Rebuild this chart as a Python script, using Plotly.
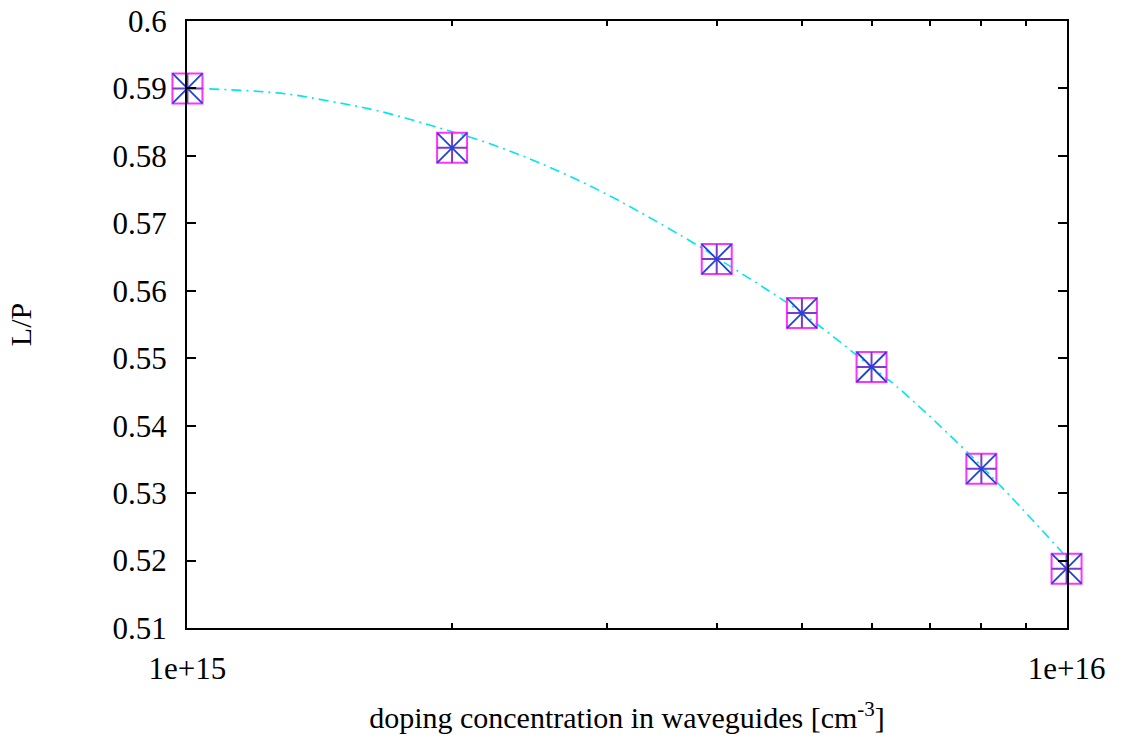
import plotly.graph_objects as go

# measured data points
doping = [1e15, 2e15, 4e15, 5e15, 6e15, 8e15, 1e16]
lp = [0.5900, 0.5812, 0.5647, 0.5567, 0.5487, 0.5336, 0.5188]

# fitted curve
fit_x = [1e15, 1.034e15, 1.275e15, 1.454e15, 1.657e15, 1.975e15, 2.153e15,
         2.5e15, 3e15, 3.83e15, 4e15, 5e15, 6e15, 6.41e15, 8e15, 1e16]
fit_y = [0.5901, 0.5900, 0.5893, 0.5881, 0.5866, 0.5838, 0.5823,
         0.5791, 0.5743, 0.5665, 0.5649, 0.5567, 0.5487, 0.5458, 0.5340, 0.5205]

y_ticks = [0.51, 0.52, 0.53, 0.54, 0.55, 0.56, 0.57, 0.58, 0.59, 0.6]
y_tick_text = ["0.51", "0.52", "0.53", "0.54", "0.55", "0.56", "0.57", "0.58", "0.59", "0.6"]
x_ticks = [1e15, 1e16]
x_tick_text = ["1e+15", "1e+16"]
x_minor = [2e15, 3e15, 4e15, 5e15, 6e15, 7e15, 8e15, 9e15]

FONT = "Liberation Serif"
FS = 30
TFS = 31

fig = go.Figure()
fig.add_trace(go.Scatter(
    x=fit_x, y=fit_y, mode="lines", line_shape="spline",
    line=dict(color="#00e6f0", width=1.6, dash="10px,5px,2px,5px"),
    showlegend=False, hoverinfo="skip", cliponaxis=False))
fig.add_trace(go.Scatter(
    x=doping, y=lp, mode="markers", cliponaxis=False,
    marker=dict(symbol="square-open", size=30, color="#ff33ff",
                line=dict(color="#ff33ff", width=2)),
    showlegend=False))
fig.add_trace(go.Scatter(
    x=doping, y=lp, mode="markers", cliponaxis=False,
    marker=dict(symbol="cross-thin-open", size=21.4, color="#7b3cc8",
                line=dict(color="#7b3cc8", width=2)),
    showlegend=False))
fig.add_trace(go.Scatter(
    x=doping, y=lp, mode="markers", cliponaxis=False,
    marker=dict(symbol="x-thin-open", size=30, color="#1f45d6",
                line=dict(color="#1f45d6", width=1.8)),
    showlegend=False))

fig.update_layout(
    width=1130, height=740,
    margin=dict(l=187, r=63, t=21, b=112),
    paper_bgcolor="white", plot_bgcolor="white",
    font=dict(family=FONT, size=FS, color="black"),
    xaxis=dict(
        type="log", range=[14.9995, 16.0005], automargin=False,
        tickmode="array", tickvals=x_ticks, ticktext=x_tick_text,
        ticks="inside", ticklen=9, tickwidth=1.5, tickcolor="black",
        showline=True, linecolor="black", linewidth=2, mirror="ticks",
        showgrid=False, zeroline=False, ticklabelstandoff=12,
        tickfont=dict(family=FONT, size=TFS),
        minor=dict(tickmode="array", tickvals=x_minor, ticks="inside",
                   ticklen=5, tickwidth=1.5, tickcolor="black", showgrid=False),
        title=dict(text="doping concentration in waveguides [cm<sup>-3</sup>]",
                   font=dict(family=FONT, size=FS), standoff=22),
    ),
    yaxis=dict(
        range=[0.51, 0.6], automargin=False,
        tickmode="array", tickvals=y_ticks, ticktext=y_tick_text,
        ticks="inside", ticklen=9, tickwidth=1.5, tickcolor="black",
        showline=True, linecolor="black", linewidth=2, mirror="ticks",
        showgrid=False, zeroline=False, ticklabelstandoff=12,
        tickfont=dict(family=FONT, size=TFS),
        title=dict(text="L/P", font=dict(family=FONT, size=FS), standoff=72),
    ),
)

fig.write_html("out.html")
